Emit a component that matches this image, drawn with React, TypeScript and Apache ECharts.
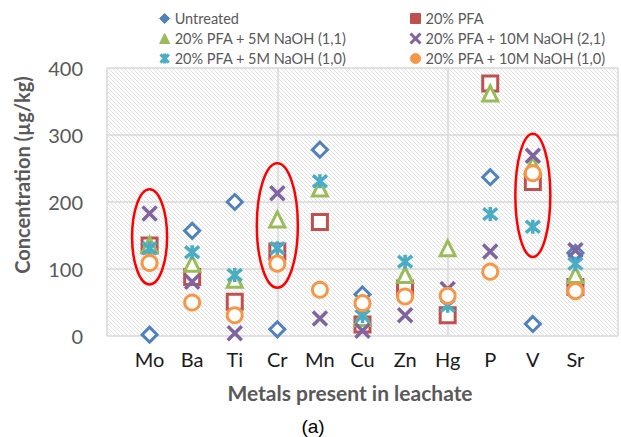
import React, { useEffect, useRef } from "react";
import * as echarts from "echarts";

const categories = ["Mo", "Ba", "Ti", "Cr", "Mn", "Cu", "Zn", "Hg", "P", "V", "Sr"];
const seriesNames = [
  "Untreated",
  "20% PFA",
  "20% PFA + 5M NaOH (1,1)",
  "20% PFA + 10M NaOH (2,1)",
  "20% PFA + 5M NaOH (1,0)",
  "20% PFA + 10M NaOH (1,0)",
];
const untreated = [2, 157, 200, 10, 278, 62, null, null, 237, 18, 124];
const pfa = [135, 88, 51, 126, 170, 17, 71, 31, 377, 230, 73];
const naoh5_11 = [136, 108, 84, 174, 220, 27, 91, 131, 362, 255, 91];
const naoh10_21 = [183, 81, 4, 213, 26, 8, 31, 70, 126, 269, 128];
const naoh5_10 = [131, 125, 91, 131, 231, 30, 111, 45, 182, 163, 108];
const naoh10_10 = [109, 50, 31, 108, 69, 49, 59, 60, 96, 243, 67];
const yTicks = [0, 100, 200, 300, 400];
// highlighted groups: [category position, centre value, half span value]
const highlights = [
  [1, 148, 71],
  [4, 165, 93],
  [10, 210, 92],
];

const allValues = [untreated, pfa, naoh5_11, naoh10_21, naoh5_10, naoh10_10];
const colors = ["#4F81BD", "#C0504D", "#9BBB59", "#8064A2", "#4BACC6", "#F79646"];
const symbols = [
  "diamond",
  "rect",
  "triangle",
  "path://M0,0L10,10M10,0L0,10",
  "path://M0,0L10,10M10,0L0,10M5,-1L5,11",
  "circle",
];
const FONT = "Lato, 'Open Sans', sans-serif";

function makeHatch() {
  const c = document.createElement("canvas");
  c.width = 4;
  c.height = 4;
  const g = c.getContext("2d")!;
  g.fillStyle = "#ffffff";
  g.fillRect(0, 0, 4, 4);
  g.fillStyle = "#e2e2e2";
  for (let i = 0; i < 4; i++) g.fillRect(i, i, 1, 1);
  return c;
}

export default function App() {
  const ref = useRef<HTMLDivElement>(null);
  useEffect(() => {
    document.body.style.margin = "0";
    const chart = echarts.init(ref.current!, null, { renderer: "svg" });
    const isLine = (si: number) => si === 3 || si === 4;
    const scatterSeries = allValues.map((vals, si) => ({
      name: seriesNames[si],
      type: "scatter",
      xAxisIndex: 0,
      yAxisIndex: 0,
      symbol: symbols[si],
      symbolSize: isLine(si) ? 14 : 15,
      itemStyle: {
        color: isLine(si) ? colors[si] : "#ffffff",
        borderColor: colors[si],
        borderWidth: isLine(si) ? 3.5 : 3,
        opacity: 1,
      },
      data: vals
        .map((v, i) => (v === null ? null : [i + 1, v]))
        .filter((d) => d !== null),
      z: 3 + si,
    }));
    const legendItem = (name: string, si: number) => ({
      name,
      itemStyle: {
        color: colors[si],
        borderColor: colors[si],
        borderWidth: isLine(si) ? 3 : 1,
      },
    });
    const legendText = { fontFamily: FONT, fontSize: 14.5, color: "#595959", lineHeight: 14 };
    chart.setOption({
      animation: false,
      backgroundColor: "#ffffff",
      grid: {
        left: 107,
        right: 2,
        top: 68,
        bottom: 101,
        show: true,
        borderWidth: 0,
        backgroundColor: { image: makeHatch(), repeat: "repeat" },
      },
      legend: [
        {
          orient: "vertical",
          left: 154,
          top: 6,
          itemWidth: 10,
          itemHeight: 10,
          itemGap: 5,
          textStyle: legendText,
          data: [0, 2, 4].map((i) => legendItem(seriesNames[i], i)),
        },
        {
          orient: "vertical",
          left: 404,
          top: 6,
          itemWidth: 10,
          itemHeight: 10,
          itemGap: 5,
          textStyle: legendText,
          data: [1, 3, 5].map((i) => legendItem(seriesNames[i], i)),
        },
      ],
      xAxis: [
        {
          type: "value",
          min: 0,
          max: 12,
          interval: 1,
          axisLine: { show: false },
          axisTick: { show: false },
          splitLine: { show: false },
          axisLabel: {
            margin: 13,
            fontFamily: FONT,
            fontSize: 20,
            color: "#1a1a1a",
            formatter: (v: number) => categories[v - 1] ?? "",
          },
        },
        {
          type: "value",
          min: 0,
          max: 12,
          interval: 4,
          position: "bottom",
          axisLine: { show: false },
          axisTick: { show: false },
          axisLabel: { show: false },
          splitLine: { show: true, lineStyle: { color: "#D9D9D9", width: 1.5 } },
        },
      ],
      yAxis: {
        type: "value",
        min: yTicks[0],
        max: yTicks[yTicks.length - 1],
        interval: 100,
        axisLine: { show: false },
        axisTick: { show: false },
        axisLabel: {
          margin: 24,
          fontFamily: FONT,
          fontSize: 20,
          color: "#595959",
        },
        splitLine: { show: true, lineStyle: { color: "#D9D9D9", width: 1.5 } },
      },
      graphic: [
        {
          type: "text",
          x: 22,
          y: 175,
          rotation: Math.PI / 2,
          style: {
            text: "Concentration (µg/kg)",
            fontFamily: FONT,
            fontWeight: "bold",
            fontSize: 20,
            fill: "#595959",
            align: "center",
            verticalAlign: "middle",
          },
        },
        {
          type: "text",
          x: 350,
          y: 392,
          style: {
            text: "Metals present in leachate",
            fontFamily: FONT,
            fontWeight: "bold",
            fontSize: 21,
            fill: "#595959",
            align: "center",
            verticalAlign: "middle",
          },
        },
        {
          type: "text",
          x: 313,
          y: 426,
          style: {
            text: "(a)",
            fontFamily: "'Liberation Sans', Arial, sans-serif",
            fontSize: 19,
            fill: "#000000",
            align: "center",
            verticalAlign: "middle",
          },
        },
      ],
      series: [
        ...scatterSeries,
        {
          type: "custom",
          xAxisIndex: 0,
          yAxisIndex: 0,
          silent: true,
          z: 20,
          data: highlights,
          renderItem: (params: any, api: any) => {
            const c = api.coord([api.value(0), api.value(1)]);
            const h = api.size([0, api.value(2)])[1];
            return {
              type: "ellipse",
              shape: { cx: c[0], cy: c[1], rx: api.value(0) === 4 ? 20.5 : 17.5, ry: h },
              style: { fill: "none", stroke: "#FF0000", lineWidth: 2.5 },
            };
          },
        },
      ],
    });
    return () => chart.dispose();
  }, []);
  return <div ref={ref} style={{ width: 621, height: 437 }} />;
}
